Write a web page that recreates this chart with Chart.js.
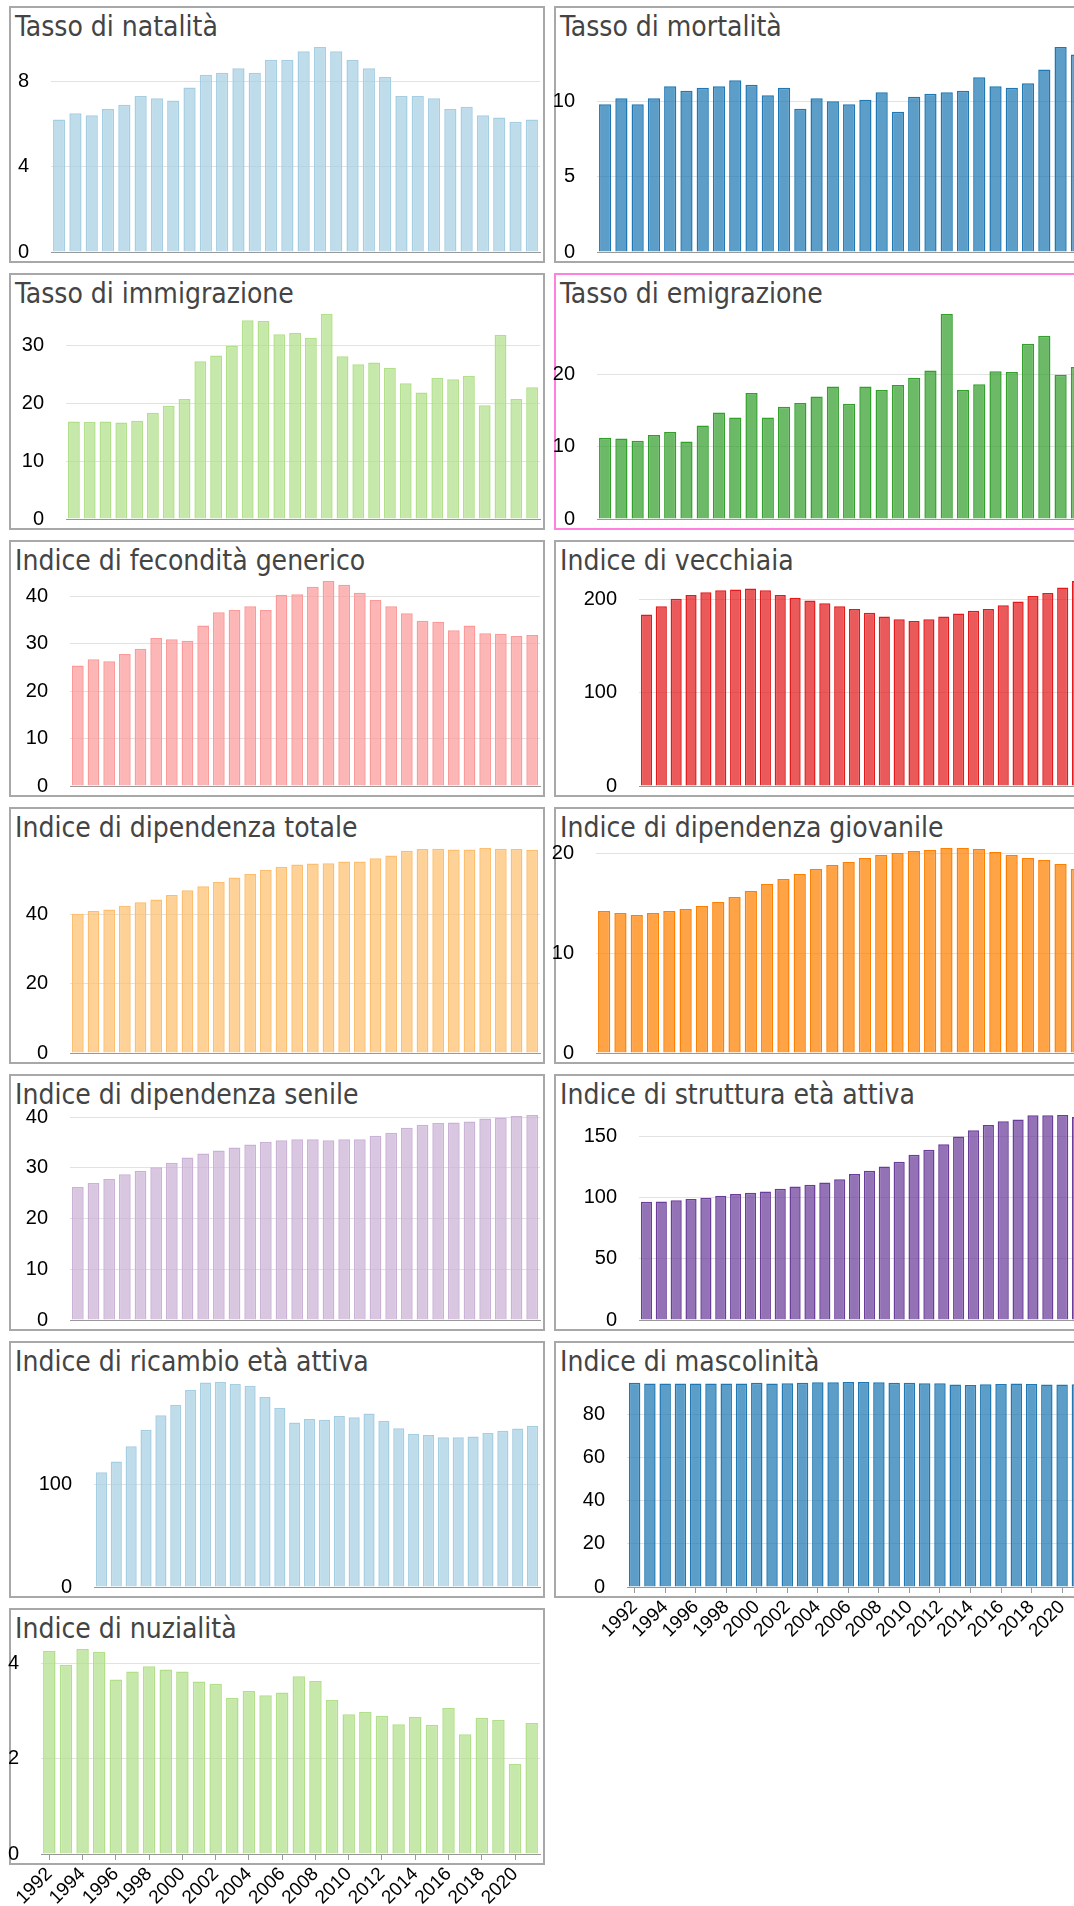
<!DOCTYPE html>
<html lang="it">
<head>
<meta charset="utf-8">
<title>Indicatori demografici</title>
<script src="https://cdn.jsdelivr.net/npm/chart.js@4.4.1/dist/chart.umd.min.js"></script>
<style>
  html { overflow: hidden; }
  body { margin: 0; padding: 0; background: #fff; min-height: 1906px; }
  #grid { width: 1100px; padding: 6px 0 0 9px; }
  .panel {
    float: left;
    position: relative;
    width: 532px;
    height: 253px;
    border: 2px solid #a8a8a8;
    margin: 0 9px 10px 0;
    background: #fff;
  }
  .panel.selected { border-color: #ff80df; }
  .panel .title {
    position: absolute;
    left: 4px;
    top: 2px;
    font: 28px/1.2 'DejaVu Sans Condensed', 'DejaVu Sans', sans-serif;
    color: #444;
    white-space: nowrap;
  }
  .panel canvas { position: absolute; left: -11px; top: 0; }
</style>
</head>
<body>
<div id="grid"></div>
<script>
// anni 1992 - 2021
const years = [1992, 1993, 1994, 1995, 1996, 1997, 1998, 1999, 2000, 2001,
               2002, 2003, 2004, 2005, 2006, 2007, 2008, 2009, 2010, 2011,
               2012, 2013, 2014, 2015, 2016, 2017, 2018, 2019, 2020, 2021];

const natalita = [6.2, 6.5, 6.4, 6.7, 6.9, 7.3, 7.2, 7.1, 7.7, 8.3, 8.4, 8.6, 8.4, 9.0, 9.0,
                  9.4, 9.6, 9.4, 9.0, 8.6, 8.2, 7.3, 7.3, 7.2, 6.7, 6.8, 6.4, 6.3, 6.1, 6.2];
const mortalita = [9.8, 10.2, 9.8, 10.2, 11.0, 10.7, 10.9, 11.0, 11.4, 11.1, 10.4, 10.9, 9.5, 10.2, 10.0,
                   9.8, 10.1, 10.6, 9.3, 10.3, 10.5, 10.6, 10.7, 11.6, 11.0, 10.9, 11.2, 12.1, 13.6, 13.1];
const immigrazione = [16.9, 16.8, 16.9, 16.7, 17.0, 18.4, 19.6, 20.8, 27.3, 28.3, 30.0, 34.4, 34.3, 32.0, 32.2,
                      31.4, 35.5, 28.2, 26.8, 27.1, 26.2, 23.5, 21.9, 24.4, 24.2, 24.8, 19.7, 31.9, 20.8, 22.8];
const emigrazione = [11.2, 11.1, 10.8, 11.6, 12.0, 10.7, 12.9, 14.7, 14.0, 17.4, 14.0, 15.5, 16.0, 16.9, 18.3,
                     15.9, 18.3, 17.8, 18.5, 19.5, 20.5, 28.3, 17.8, 18.6, 20.4, 20.3, 24.2, 25.3, 19.9, 21.0];
const fecondita = [25.4, 26.7, 26.3, 27.8, 28.9, 31.2, 30.9, 30.6, 33.8, 36.6, 37.1, 37.9, 37.1, 40.3, 40.4,
                   42.0, 43.2, 42.4, 40.7, 39.2, 37.9, 36.4, 34.8, 34.6, 32.8, 33.8, 32.2, 32.1, 31.6, 31.8];
const vecchiaia = [184, 193, 201, 205, 208, 210, 211, 212, 210, 205, 202, 199, 196, 193, 190,
                   186, 182, 179, 177, 179, 182, 185, 188, 190, 194, 198, 204, 207, 213, 220];
const dipTotale = [40.3, 41.1, 41.5, 42.6, 43.6, 44.4, 45.7, 47.1, 48.2, 49.5, 50.8, 51.8, 53.0, 53.9, 54.5,
                   54.8, 54.9, 55.4, 55.4, 56.3, 57.1, 58.5, 59.0, 59.1, 58.9, 58.9, 59.3, 59.1, 59.0, 58.8];
const dipGiovanile = [14.2, 14.0, 13.8, 14.0, 14.2, 14.4, 14.7, 15.1, 15.6, 16.2, 16.9, 17.4, 17.9, 18.4, 18.8,
                      19.1, 19.5, 19.8, 20.0, 20.2, 20.3, 20.5, 20.5, 20.4, 20.1, 19.8, 19.5, 19.3, 18.9, 18.4];
const dipSenile = [26.2, 27.0, 27.8, 28.7, 29.4, 30.1, 31.0, 32.0, 32.8, 33.4, 34.0, 34.6, 35.1, 35.4, 35.6,
                   35.6, 35.4, 35.6, 35.6, 36.3, 36.9, 37.9, 38.5, 38.8, 38.9, 39.1, 39.7, 39.9, 40.2, 40.4];
const struttura = [96.6, 96.8, 97.7, 98.7, 99.8, 101.4, 102.8, 103.9, 104.9, 107.1, 109.0, 110.3, 112.2, 114.9, 119.2,
                   121.9, 125.2, 129.2, 134.9, 138.9, 143.5, 149.7, 154.8, 159.2, 162.1, 163.7, 167.0, 167.0, 167.3, 165.6];
const ricambio = [111.7, 122.3, 137.0, 153.3, 167.3, 177.3, 192.0, 199.3, 199.7, 197.7, 196.0, 185.0, 174.3, 160.3, 163.7,
                  163.0, 166.7, 165.3, 169.0, 162.0, 154.7, 149.0, 148.0, 146.0, 146.0, 146.7, 150.0, 152.3, 154.3, 157.0];
const mascolinita = [94.9, 94.5, 94.5, 94.5, 94.5, 94.5, 94.5, 94.5, 94.8, 94.5, 94.6, 94.9, 95.1, 95.1, 95.2,
                     95.2, 95.1, 94.8, 94.8, 94.6, 94.6, 94.0, 93.8, 94.1, 94.3, 94.5, 94.3, 94.0, 94.0, 94.1];
const nuzialita = [4.26, 3.97, 4.30, 4.24, 3.66, 3.83, 3.94, 3.87, 3.83, 3.62, 3.57, 3.28, 3.42, 3.33, 3.39,
                   3.73, 3.63, 3.23, 2.93, 2.98, 2.90, 2.72, 2.88, 2.71, 3.06, 2.51, 2.86, 2.81, 1.89, 2.75];

// valori delle etichette sull'asse y
const natalitaTicks = [0, 4, 8];
const mortalitaTicks = [0, 5, 10];
const immigrazioneTicks = [0, 10, 20, 30];
const emigrazioneTicks = [0, 10, 20];
const feconditaTicks = [0, 10, 20, 30, 40];
const vecchiaiaTicks = [0, 100, 200];
const dipTotaleTicks = [0, 20, 40];
const dipGiovanileTicks = [0, 10, 20];
const dipSenileTicks = [0, 10, 20, 30, 40];
const strutturaTicks = [0, 50, 100, 150];
const ricambioTicks = [0, 100];
const mascolinitaTicks = [0, 20, 40, 60, 80];
const nuzialitaTicks = [0, 2, 4];

const PANEL_W = 532;
const PANEL_H = 253;
const BLEED = 11;        // canvas starts a bit left of the panel
const AREA_TOP = 39;
const AREA_BOTTOM = 244;
const LABEL_ROOM = 70;
const TICK_FONT = "'Liberation Sans', Arial, sans-serif";

// axisLeft = distance of the plot area from the panel's inner left edge
const panels = [
    {title: 'Tasso di natalità', values: natalita, ticks: natalitaTicks, color: '#a6cee3', axisLeft: 40},
    {title: 'Tasso di mortalità', values: mortalita, ticks: mortalitaTicks, color: '#1f78b4', axisLeft: 41},
    {title: 'Tasso di immigrazione', values: immigrazione, ticks: immigrazioneTicks, color: '#b2df8a', axisLeft: 55},
    {title: 'Tasso di emigrazione', values: emigrazione, ticks: emigrazioneTicks, color: '#33a02c', axisLeft: 41, selected: true},
    {title: 'Indice di fecondità generico', values: fecondita, ticks: feconditaTicks, color: '#fb9a99', axisLeft: 59},
    {title: 'Indice di vecchiaia', values: vecchiaia, ticks: vecchiaiaTicks, color: '#e31a1c', axisLeft: 83},
    {title: 'Indice di dipendenza totale', values: dipTotale, ticks: dipTotaleTicks, color: '#fdbf6f', axisLeft: 59},
    {title: 'Indice di dipendenza giovanile', values: dipGiovanile, ticks: dipGiovanileTicks, color: '#ff7f00', axisLeft: 40},
    {title: 'Indice di dipendenza senile', values: dipSenile, ticks: dipSenileTicks, color: '#cab2d6', axisLeft: 59},
    {title: 'Indice di struttura età attiva', values: struttura, ticks: strutturaTicks, color: '#6a3d9a', axisLeft: 83},
    {title: 'Indice di ricambio età attiva', values: ricambio, ticks: ricambioTicks, color: '#a6cee3', axisLeft: 83},
    {title: 'Indice di mascolinità', values: mascolinita, ticks: mascolinitaTicks, color: '#1f78b4', axisLeft: 71, showYears: true},
    {title: 'Indice di nuzialità', values: nuzialita, ticks: nuzialitaTicks, color: '#b2df8a', axisLeft: 30, showYears: true},
];

function withAlpha(hex, a) {
    const n = parseInt(hex.slice(1), 16);
    return `rgba(${(n >> 16) & 255}, ${(n >> 8) & 255}, ${n & 255}, ${a})`;
}

function drawPanel(cfg) {
    const panel = document.createElement('div');
    panel.className = cfg.selected ? 'panel selected' : 'panel';
    document.getElementById('grid').appendChild(panel);

    const title = document.createElement('div');
    title.className = 'title';
    title.textContent = cfg.title;
    panel.appendChild(title);

    const canvas = document.createElement('canvas');
    const w = PANEL_W + BLEED;
    const h = cfg.showYears ? PANEL_H + LABEL_ROOM : PANEL_H + 3;
    canvas.width = w;
    canvas.height = h;
    canvas.style.width = w + 'px';
    canvas.style.height = h + 'px';
    panel.appendChild(canvas);

    new Chart(canvas, {
        type: 'bar',
        data: {
            labels: years,
            datasets: [{
                data: cfg.values,
                backgroundColor: withAlpha(cfg.color, 0.72),
                borderColor: cfg.color,
                borderWidth: 1.5,
                barPercentage: 0.75,
                categoryPercentage: 1,
            }],
        },
        options: {
            responsive: false,
            animation: false,
            events: [],
            layout: {padding: {left: 0, right: 3, top: AREA_TOP, bottom: 0}},
            plugins: {
                legend: {display: false},
                tooltip: {enabled: false},
            },
            scales: {
                x: {
                    offset: true,
                    afterBuildTicks: scale => {
                        scale.ticks = scale.ticks.filter((t, i) => i % 2 === 0);
                    },
                    afterFit: scale => {
                        scale.height = h - AREA_BOTTOM;
                    },
                    grid: {
                        offset: false,
                        drawOnChartArea: false,
                        drawTicks: !!cfg.showYears,
                        tickLength: 6,
                        color: '#999',
                    },
                    border: {display: true, color: '#999'},
                    ticks: {
                        display: !!cfg.showYears,
                        autoSkip: false,
                        maxRotation: 45,
                        minRotation: 45,
                        padding: 3,
                        color: '#000',
                        font: {family: TICK_FONT, size: 19},
                    },
                },
                y: {
                    min: 0,
                    max: Math.max(...cfg.values),
                    afterBuildTicks: scale => {
                        scale.ticks = cfg.ticks.map(v => ({value: v}));
                    },
                    afterFit: scale => {
                        scale.width = cfg.axisLeft + BLEED;
                    },
                    grid: {
                        drawTicks: true,
                        tickLength: 22,
                        tickColor: 'rgba(0,0,0,0)',
                        color: ctx => ctx.tick && ctx.tick.value === 0 ? 'rgba(0,0,0,0)' : '#e2e2e2',
                    },
                    border: {display: false},
                    ticks: {
                        padding: 0,
                        color: '#000',
                        font: {family: TICK_FONT, size: 20},
                    },
                },
            },
        },
    });
}

panels.forEach(drawPanel);
</script>
</body>
</html>
